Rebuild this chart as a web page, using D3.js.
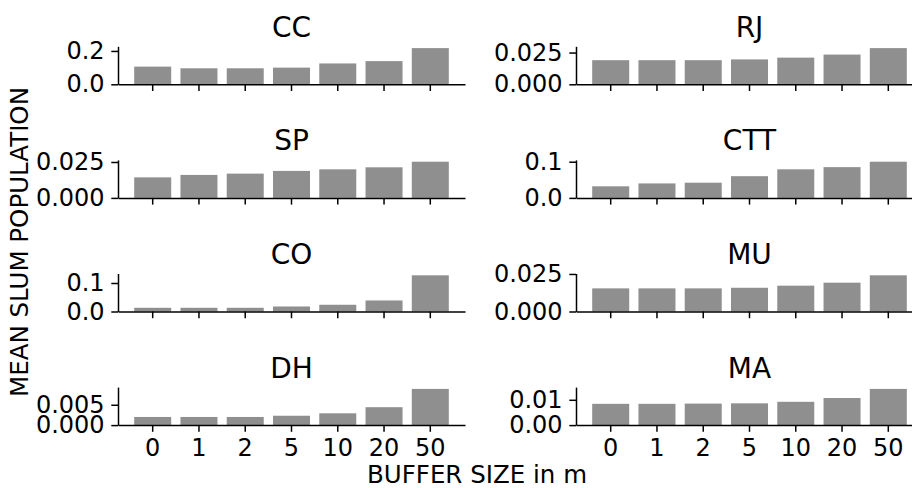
<!DOCTYPE html>
<html>
<head>
<meta charset="utf-8">
<script src="https://cdn.jsdelivr.net/npm/d3@7"></script>
<style>
  body { margin: 0; background: #fff; }
  svg { display: block; font-family: "DejaVu Sans", sans-serif; }
</style>
</head>
<body>
<script>
// buffer sizes (x categories)
const buffers = ["0", "1", "2", "5", "10", "20", "50"];
const regions = ["CC", "RJ", "SP", "CTT", "CO", "MU", "DH", "MA"];

// mean slum population per buffer size, one array per region
const cc  = [0.106, 0.096, 0.096, 0.100, 0.125, 0.139, 0.217];
const rj  = [0.0190, 0.0190, 0.0190, 0.0196, 0.0210, 0.0234, 0.0285];
const sp  = [0.0143, 0.0160, 0.0169, 0.0188, 0.0199, 0.0213, 0.0252];
const ctt = [0.032, 0.040, 0.042, 0.060, 0.079, 0.085, 0.100];
const co  = [0.013, 0.013, 0.013, 0.0176, 0.0236, 0.0387, 0.127];
const mu  = [0.0154, 0.0154, 0.0154, 0.0158, 0.0172, 0.0192, 0.0241];
const dh  = [0.0020, 0.0020, 0.0020, 0.0023, 0.0029, 0.0044, 0.0089];
const ma  = [0.0084, 0.0084, 0.0085, 0.0086, 0.0092, 0.0107, 0.0143];
const series = [cc, rj, sp, ctt, co, mu, dh, ma];

// y tick values and label formats per region
const yTicks = [[0, 0.2], [0, 0.025], [0, 0.025], [0, 0.1], [0, 0.1], [0, 0.025], [0, 0.005], [0, 0.01]];
const yFormats = [".1f", ".3f", ".3f", ".1f", ".1f", ".3f", ".3f", ".2f"];

const W = 912, H = 488;
const pw = 347, ph = 38;
const colX = [118, 576];
const top0 = 46.3, rowStep = 113.6;
const tick = 6.7;

const svg = d3.select(document.body).append("svg")
  .attr("width", W).attr("height", H);

const x = d3.scaleBand().domain(buffers).range([0, pw])
  .paddingInner(0.2).paddingOuter(0.35);

regions.forEach((name, k) => {
  const col = k % 2, row = Math.floor(k / 2);
  const vals = series[k];
  const g = svg.append("g")
    .attr("transform", `translate(${colX[col]},${top0 + row * rowStep})`);

  const y = d3.scaleLinear().domain([0, d3.max(vals) * 1.05]).range([ph, 0]);

  g.selectAll("rect").data(vals).join("rect")
    .attr("x", (d, i) => x(buffers[i]))
    .attr("width", x.bandwidth())
    .attr("y", d => y(d))
    .attr("height", d => ph - y(d))
    .attr("fill", "#8f8f8f");

  const xa = g.append("g").attr("transform", `translate(0,${ph})`)
    .call(d3.axisBottom(x).tickSize(tick).tickSizeOuter(0).tickPadding(tick)
      .tickFormat(row === 3 ? null : () => ""));
  const ya = g.append("g")
    .call(d3.axisLeft(y).tickValues(yTicks[k]).tickFormat(d3.format(yFormats[k]))
      .tickSize(tick).tickSizeOuter(0).tickPadding(tick));

  [xa, ya].forEach(a => {
    a.selectAll("path, line").attr("stroke", "#000").attr("stroke-width", 1.5);
    a.selectAll("text").attr("font-size", 24).attr("fill", "#000")
      .attr("font-family", "DejaVu Sans");
  });

  g.append("text")
    .attr("x", pw / 2).attr("y", -9.6)
    .attr("text-anchor", "middle")
    .attr("font-size", 28)
    .text(name);
});

svg.append("text")
  .attr("x", 477).attr("y", 483)
  .attr("text-anchor", "middle")
  .attr("font-size", 24.5)
  .text("BUFFER SIZE in m");

svg.append("text")
  .attr("transform", "translate(28,242) rotate(-90)")
  .attr("text-anchor", "middle")
  .attr("font-size", 24.5)
  .text("MEAN SLUM POPULATION");
</script>
</body>
</html>
